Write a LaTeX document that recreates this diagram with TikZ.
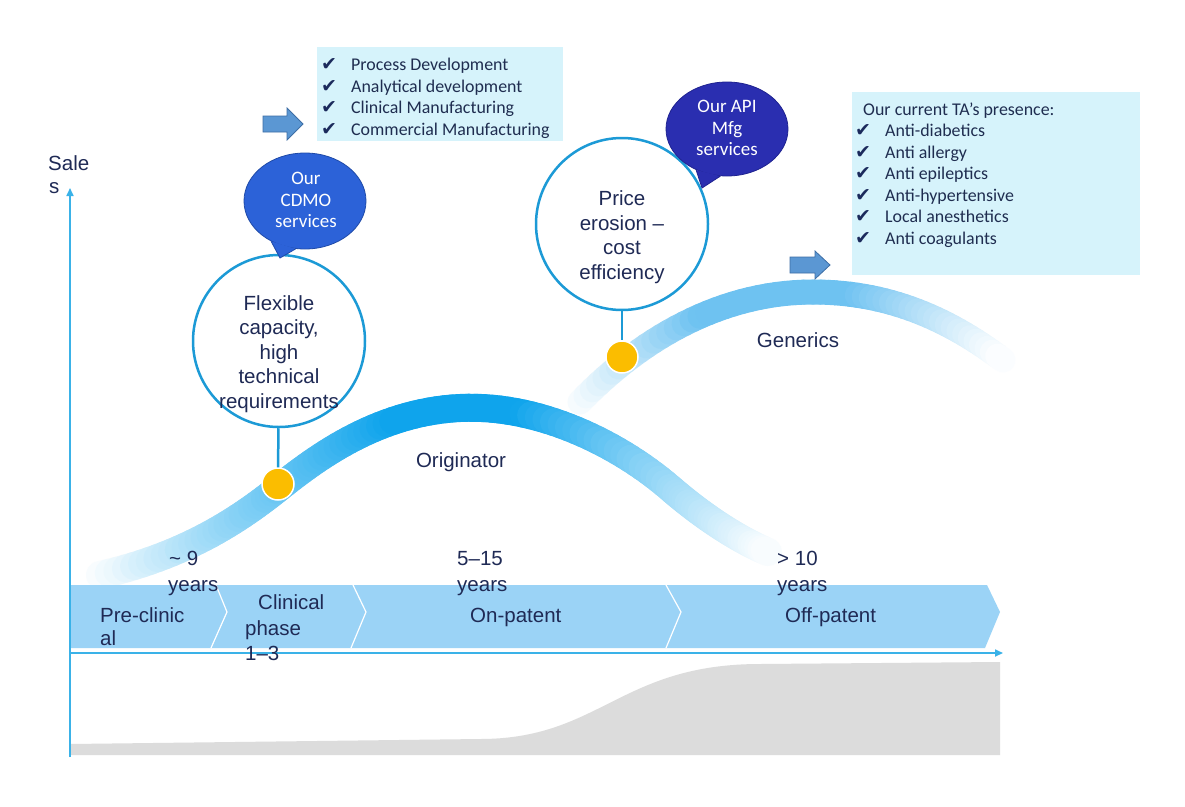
\documentclass[tikz,border=0pt]{standalone}
\usepackage{fontspec}
\setmainfont{Liberation Sans}
\newfontfamily\calib{Carlito}
\newfontfamily\djv{DejaVu Sans}
\usetikzlibrary{shapes.geometric,arrows.meta}
\definecolor{navy}{HTML}{1F2A55}
\definecolor{boxtext}{HTML}{1F2D50}
\definecolor{ringblue}{HTML}{1C9AD6}
\definecolor{axisblue}{HTML}{3AB2E8}
\definecolor{bandblue}{HTML}{9BD3F6}
\definecolor{boxcyan}{HTML}{D6F3FB}
\definecolor{dotyellow}{HTML}{FBBD00}
\definecolor{bubA}{HTML}{2C62D8}
\definecolor{bubAline}{HTML}{1F4AA8}
\definecolor{bubB}{HTML}{2A2EB0}
\definecolor{bubBline}{HTML}{1E2290}
\definecolor{arrfill}{HTML}{5B97D3}
\definecolor{arrline}{HTML}{3D6EA5}
\definecolor{origblue}{HTML}{0FA4EC}
\definecolor{genblue}{HTML}{6EC2F1}
\definecolor{greyarea}{HTML}{DCDCDC}
\definecolor{checkc}{HTML}{1B2A5C}
\newcommand\chkmark{\char"2714}
% gradient stroke along cubic pieces: #1 colour, #2 width, #3 left x0, #4 left ramp, #5 right x1, #6 right ramp, #7 list of pieces
\newcommand\gradcurve[7]{%
  \foreach \Ax/\Ay/\Bx/\By/\Cx/\Cy/\Dx/\Dy in {#7} {
    \foreach \i in {0,...,29} {
      \pgfmathsetmacro\ta{\i/30}
      \pgfmathsetmacro\tb{(\i+1)/30}
      \pgfmathsetmacro\ua{1-\ta}
      \pgfmathsetmacro\ub{1-\tb}
      \pgfmathsetmacro\xa{\ua*\ua*\ua*\Ax+3*\ua*\ua*\ta*\Bx+3*\ua*\ta*\ta*\Cx+\ta*\ta*\ta*\Dx}
      \pgfmathsetmacro\ya{\ua*\ua*\ua*\Ay+3*\ua*\ua*\ta*\By+3*\ua*\ta*\ta*\Cy+\ta*\ta*\ta*\Dy}
      \pgfmathsetmacro\xb{\ub*\ub*\ub*\Ax+3*\ub*\ub*\tb*\Bx+3*\ub*\tb*\tb*\Cx+\tb*\tb*\tb*\Dx}
      \pgfmathsetmacro\yb{\ub*\ub*\ub*\Ay+3*\ub*\ub*\tb*\By+3*\ub*\tb*\tb*\Cy+\tb*\tb*\tb*\Dy}
      \pgfmathsetmacro\xm{(\xa+\xb)/2}
      \pgfmathsetmacro\fl{(\xm-#3)/#4}
      \pgfmathsetmacro\fr{(#5-\xm)/#6}
      \pgfmathtruncatemacro\op{100*max(0,min(1,\fl,\fr))}
      \draw[line width=#2, line cap=round, draw=#1!\op!white] (\xa,\ya) -- (\xb,\yb);
    }
  }%
}
\begin{document}
\begin{tikzpicture}[x=1pt,y=-1pt,
  lbl/.style={anchor=base west, inner sep=0pt, text=navy, font=\fontsize{20.5}{24.5}\selectfont},
  ctxt/.style={inner sep=0pt, align=center, text=navy, font=\fontsize{20.5}{24.5}\selectfont},
  ring/.style={circle, draw=ringblue, line width=2.5pt, fill=white, minimum size=172pt, inner sep=0pt},
  ydot/.style={circle, fill=dotyellow, draw=white, line width=1.5pt, minimum size=32pt, inner sep=0pt},
  stem/.style={draw=ringblue, line width=2.5pt},
  bubtxt/.style={inner sep=0pt, align=center, text=white, font=\calib\fontsize{19}{21.5}\selectfont},
  chk/.style={anchor=base west, inner sep=0pt, text=checkc, font=\djv\fontsize{19}{20}\selectfont},
  boxtxt/.style={anchor=base west, inner sep=0pt, text=boxtext, font=\calib\fontsize{17.9}{21}\selectfont},
  tabox/.style={anchor=north west, fill=boxcyan, draw=none, inner sep=0pt},
  blockarrow/.style={fill=arrfill, draw=arrline, line width=0.8pt},
  axis/.style={draw=axisblue, line width=1.6pt, -{Triangle[length=8pt,width=7pt]}},
  sep/.style={draw=white, line width=1.2pt}]
\useasboundingbox (0,0) rectangle (1185,806);
\fill[white] (0,0) rectangle (1185,806);

% grey area
\fill[greyarea] (70,755) -- (70,744) -- (480,739) .. controls (600,739) and (620,664) .. (760,664) -- (1000,662) -- (1000,755) -- cycle;

% curves (gradient strokes)
\gradcurve{genblue}{25pt}{575}{130}{1005}{150}{580/402/640/340/720/292/813/292, 813/292/890/292/950/320/1003/360}
\gradcurve{origblue}{28pt}{95}{300}{775}{250}{100/575/190/555/245/515/280/487, 280/487/320/455/380/412/460/408, 460/408/540/404/620/445/670/488, 670/488/700/514/735/538/768/552}

% band
\fill[bandblue] (70,585) -- (987,585) -- (1000,612) -- (985,648) -- (70,648) -- cycle;
\draw[sep] (216,585) -- (227,612) -- (211,648);
\draw[sep] (353,585) -- (366,612) -- (351,648);
\draw[sep] (666,585) -- (681,612) -- (666,648);

% axes
\coordinate (yo) at (70,757);
\coordinate (ye) at (70,188);
\coordinate (xo) at (70,653);
\coordinate (xe) at (1003,653);
\draw[axis] (yo) -- (ye);
\draw[axis] (xo) -- (xe);

% circles, stems, dots
\node[ring] (c1) at (279,341) {};
\node[ring] (c2) at (622,224) {};
\node[ydot] (d1) at (278,484) {};
\node[ydot] (d2) at (622,357) {};
\draw[stem] (c1) -- (d1);
\draw[stem] (c2) -- (d2);
\node[ctxt] (ct1) at (279,354) {Flexible\\capacity,\\high\\technical\\requirements};
\node[ctxt] (ct2) at (622,237) {Price\\erosion --\\cost\\efficiency};

% bubbles
\node[ellipse, fill=bubA, draw=bubAline, line width=0.8pt, minimum width=122pt, minimum height=96pt, inner sep=0pt] (b1) at (305,201) {};
\coordinate (t1) at (280,258);
\fill[bubA] (b1.230) -- (t1) -- (b1.259) -- cycle;
\draw[bubAline, line width=0.8pt] (b1.230) -- (t1) -- (b1.259);
\node[bubtxt] (bt1) at (306,200) {Our\\CDMO\\services};

\node[ellipse, fill=bubB, draw=bubBline, line width=0.8pt, minimum width=122pt, minimum height=94pt, inner sep=0pt] (b2) at (727,129) {};
\coordinate (t2) at (702,188);
\fill[bubB] (b2.233) -- (t2) -- (b2.262) -- cycle;
\draw[bubBline, line width=0.8pt] (b2.233) -- (t2) -- (b2.262);
\node[bubtxt] (bt2) at (727,128) {Our API\\Mfg\\services};

% boxes
\node[tabox, minimum width=246pt, minimum height=94pt] (box1) at (317,47) {};
\foreach \t [count=\i] in {Process Development, Analytical development, Clinical Manufacturing, Commercial Manufacturing} {
  \node[chk] (ka\i) at (321,{49+21.5*\i}) {\chkmark};
  \node[boxtxt] (la\i) at (351,{49+21.5*\i}) {\t};
}
\node[tabox, minimum width=288pt, minimum height=183pt] (box2) at (852,92) {};
\node[boxtxt] (hd2) at (863,115.5) {Our current TA’s presence:};
\foreach \t [count=\i] in {Anti-diabetics, Anti allergy, Anti epileptics, Anti-hypertensive, Local anesthetics, Anti coagulants} {
  \node[chk] (kb\i) at (855,{115+21.5*\i}) {\chkmark};
  \node[boxtxt] (lb\i) at (885,{115+21.5*\i}) {\t};
}

% block arrows
\draw[blockarrow] (263,116) -- (287,116) -- (287,108) -- (303,124) -- (287,140) -- (287,132) -- (263,132) -- cycle;
\draw[blockarrow] (790,257) -- (815,257) -- (815,251) -- (830,265) -- (815,279) -- (815,273) -- (790,273) -- cycle;

% labels
\node[lbl] (s1) at (48,170) {Sale};
\node[lbl] (s2) at (49,193) {s};
\node[lbl, anchor=base] (orig) at (461,467) {Originator};
\node[lbl, anchor=base] (gen) at (798,347) {Generics};
\node[lbl] (y1a) at (169,565) {\char"007E\ 9};
\node[lbl] (y1b) at (168,591) {years};
\node[lbl] (y2a) at (457,565) {5--15};
\node[lbl] (y2b) at (457,591) {years};
\node[lbl] (y3a) at (777,565) {> 10};
\node[lbl] (y3b) at (777,591) {years};
\node[lbl] (p1a) at (100,622) {Pre-clinic};
\node[lbl] (p1b) at (100,645) {al};
\node[lbl] (p2a) at (258,609) {Clinical};
\node[lbl] (p2b) at (245,635) {phase};
\node[lbl] (p2c) at (245,660) {1--3};
\node[lbl] (p3) at (470,622) {On-patent};
\node[lbl] (p4) at (785,622) {Off-patent};
\end{tikzpicture}
\end{document}
